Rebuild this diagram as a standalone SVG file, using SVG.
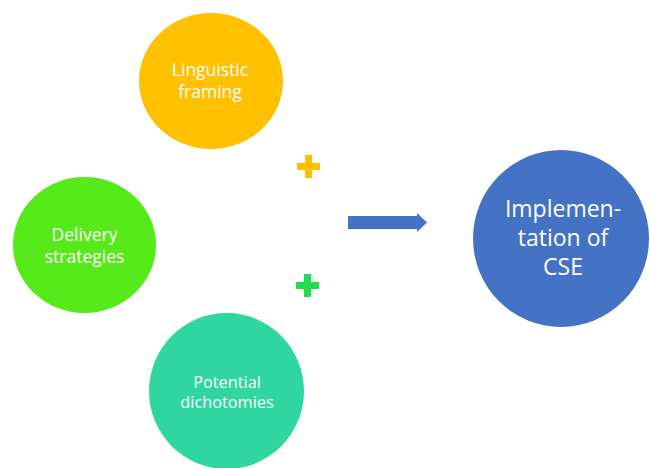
<svg xmlns="http://www.w3.org/2000/svg" width="650" height="468" viewBox="0 0 650 468">
  <style>
    .lbl { font-family: "Open Sans", "Liberation Sans", sans-serif; fill: #ffffff; text-anchor: middle; }
  </style>
  <rect width="650" height="468" fill="#ffffff"/>

  <g id="linguistic-framing">
    <ellipse cx="211" cy="81" rx="72" ry="68" fill="#FFC000"/>
    <text class="lbl" x="210" y="76" font-size="17.5">Linguistic</text>
    <text class="lbl" x="210" y="98" font-size="17.5">framing</text>
  </g>

  <g id="delivery-strategies">
    <ellipse cx="84.5" cy="245" rx="71.5" ry="68" fill="#56EA1B"/>
    <text class="lbl" x="84.5" y="241" font-size="17.5">Delivery</text>
    <text class="lbl" x="84.5" y="263" font-size="17.5">strategies</text>
  </g>

  <g id="potential-dichotomies">
    <ellipse cx="226.5" cy="391" rx="77.5" ry="78" fill="#2FD6A0"/>
    <text class="lbl" x="227" y="388" font-size="16.3">Potential</text>
    <text class="lbl" x="227" y="408" font-size="16.3">dichotomies</text>
  </g>

  <g id="implementation-of-cse">
    <ellipse cx="561" cy="238.5" rx="88" ry="88.5" fill="#4472C4"/>
    <text class="lbl" x="563" y="217" font-size="23">Implemen-</text>
    <text class="lbl" x="563" y="246" font-size="23">tation of</text>
    <text class="lbl" x="563" y="275" font-size="23">CSE</text>
  </g>

  <g id="connectors">
    <!-- plus signs between the input circles -->
    <path d="M305 155 h7 v8 h8 v7 h-8 v8 h-7 v-8 h-8 v-7 h8 z" fill="#FFC000"/>
    <path d="M304 274 h7 v8 h8 v7 h-8 v8 h-7 v-8 h-8 v-7 h8 z" fill="#21DE4C"/>
    <!-- block arrow towards the result -->
    <path d="M348 216 h69 v-3 l10 9.5 l-10 9.5 v-3 h-69 z" fill="#4472C4"/>
  </g>
</svg>
